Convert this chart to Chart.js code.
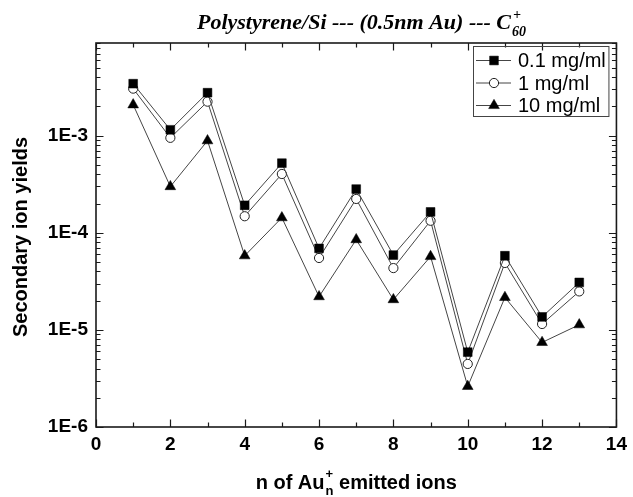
<!DOCTYPE html>
<html><head><meta charset="utf-8">
<script src="https://cdn.jsdelivr.net/npm/chart.js@4.4.0/dist/chart.umd.min.js"></script>
<style>html,body{margin:0;padding:0;background:#fff}canvas{display:block}</style>
</head><body>
<canvas id="c" width="633" height="497"></canvas>
<script>
const nValues = [1,2,3,4,5,6,7,8,9,10,11,12,13];
const seriesNames = ['0.1 mg/ml','1 mg/ml','10 mg/ml'];
const yield01 = [3.43e-3,1.15e-3,2.77e-3,1.92e-4,5.21e-4,6.9e-5,2.82e-4,5.9e-5,1.64e-4,5.9e-6,5.8e-5,1.36e-5,3.08e-5];
const yield1  = [3.05e-3,9.5e-4,2.24e-3,1.48e-4,4.03e-4,5.5e-5,2.23e-4,4.33e-5,1.33e-4,4.46e-6,4.89e-5,1.15e-5,2.49e-5];
const yield10 = [2.08e-3,2.99e-4,8.87e-4,5.8e-5,1.43e-4,2.2e-5,8.5e-5,2.05e-5,5.7e-5,2.62e-6,2.16e-5,7.43e-6,1.13e-5];
const xTickValues = [0,2,4,6,8,10,12,14];
const yTickValues = [1e-6,1e-5,1e-4,1e-3];
const yTickLabels = ['1E-6','1E-5','1E-4','1E-3'];
const titleParts = ['Polystyrene/Si --- (0.5nm Au) --- C','+','60'];
const xTitleParts = ['n of Au','n','+',' emitted ions'];
const yTitle = 'Secondary ion yields';

const SANS = '"Liberation Sans", Arial, sans-serif';
const SERIF = '"Liberation Serif", "Times New Roman", serif';

const pts = arr => nValues.map((n,i)=>({x:n,y:arr[i]}));

const framePlugin = {
  id:'frame',
  afterDatasetsDraw(chart){
    const {ctx, chartArea:a, scales:{x,y}} = chart;
    ctx.save();
    ctx.strokeStyle='#1a1a1a';
    ctx.lineWidth=1.2;
    ctx.beginPath();
    for (let v=x.min; v<=x.max; v++){
      const px = Math.round(x.getPixelForValue(v))+0.5;
      const len = xTickValues.includes(v) ? 7.5 : 4.5;
      ctx.moveTo(px, a.bottom); ctx.lineTo(px, a.bottom-len);
      ctx.moveTo(px, a.top); ctx.lineTo(px, a.top+len);
    }
    for (let e=-6; e<=-3; e++){
      for (let m=1; m<=9; m++){
        const v = parseFloat(m+'e'+e);
        if (v < y.min*0.999 || v > y.max*1.001) continue;
        const py = Math.round(y.getPixelForValue(v))+0.5;
        const len = m===1 ? 7.5 : 4.5;
        ctx.moveTo(a.left, py); ctx.lineTo(a.left+len, py);
        ctx.moveTo(a.right, py); ctx.lineTo(a.right-len, py);
      }
    }
    ctx.stroke();
    ctx.lineWidth=1.6;
    ctx.strokeRect(a.left, a.top, a.right-a.left, a.bottom-a.top);
    ctx.restore();
  }
};

const legendPlugin = {
  id:'boxLegend',
  afterDraw(chart){
    const {ctx, chartArea:a} = chart;
    const bx0 = 473, by0 = 46, bx1 = a.right-8, by1 = 116;
    ctx.save();
    ctx.strokeStyle='#444'; ctx.lineWidth=1;
    ctx.strokeRect(bx0+0.5, by0+0.5, bx1-bx0, by1-by0);
    const rows = [60.5, 83, 105.5];
    chart.data.datasets.forEach((ds,i)=>{
      const yy = rows[i];
      ctx.strokeStyle = ds.borderColor; ctx.lineWidth = ds.borderWidth;
      ctx.beginPath(); ctx.moveTo(bx0+3, yy); ctx.lineTo(bx0+38, yy); ctx.stroke();
      ctx.fillStyle = ds.pointBackgroundColor; ctx.strokeStyle = ds.pointBorderColor;
      ctx.lineWidth = ds.pointBorderWidth;
      Chart.helpers.drawPoint(ctx, {pointStyle: ds.pointStyle, radius: ds.pointRadius, borderWidth: ds.pointBorderWidth, rotation:0}, bx0+21, yy);
      ctx.fillStyle='#000'; ctx.font='20px '+SANS; ctx.textAlign='left'; ctx.textBaseline='middle';
      ctx.fillText(ds.label, bx0+45, yy+1);
    });
    ctx.restore();
  }
};

const titlesPlugin = {
  id:'titles',
  afterDraw(chart){
    const {ctx, chartArea:a} = chart;
    ctx.save();
    ctx.fillStyle='#000';
    ctx.font='italic bold 22px '+SERIF;
    const w0 = ctx.measureText(titleParts[0]).width;
    ctx.font='italic bold 14px '+SERIF;
    const w1 = Math.max(ctx.measureText(titleParts[1]).width, ctx.measureText(titleParts[2]).width);
    let x0 = 362 - (w0+w1+2)/2;
    const base = 29;
    ctx.textBaseline='alphabetic'; ctx.textAlign='left';
    ctx.font='italic bold 22px '+SERIF;
    ctx.fillText(titleParts[0], x0, base);
    ctx.font='italic bold 14px '+SERIF;
    ctx.fillText(titleParts[1], x0+w0+2, base-10);
    ctx.fillText(titleParts[2], x0+w0+1, base+7);
    const cx = (a.left+a.right)/2;
    ctx.font='bold 20px '+SANS;
    const xa = ctx.measureText(xTitleParts[0]).width;
    const xd = ctx.measureText(xTitleParts[3]).width;
    ctx.font='bold 13px '+SANS;
    const xs = Math.max(ctx.measureText(xTitleParts[1]).width, ctx.measureText(xTitleParts[2]).width);
    let xs0 = cx - (xa+xs+xd+1)/2;
    const xb = 489;
    ctx.font='bold 20px '+SANS;
    ctx.fillText(xTitleParts[0], xs0, xb);
    ctx.fillText(xTitleParts[3], xs0+xa+xs+1, xb);
    ctx.font='bold 13px '+SANS;
    ctx.fillText(xTitleParts[2], xs0+xa+1, xb-11);
    ctx.fillText(xTitleParts[1], xs0+xa+1, xb+6);
    ctx.translate(27, 237);
    ctx.rotate(-Math.PI/2);
    ctx.font='bold 20px '+SANS;
    ctx.textAlign='center';
    ctx.fillText(yTitle, 0, 0);
    ctx.restore();
  }
};

new Chart(document.getElementById('c'), {
  type:'line',
  data:{
    datasets:[
      {label:seriesNames[0], data:pts(yield01), borderColor:'#454545', borderWidth:1,
       pointStyle:'rect', pointRadius:6.2, pointBackgroundColor:'#000', pointBorderColor:'#000', pointBorderWidth:0.5, tension:0},
      {label:seriesNames[1], data:pts(yield1), borderColor:'#454545', borderWidth:1,
       pointStyle:'circle', pointRadius:4.6, pointBackgroundColor:'#fff', pointBorderColor:'#222', pointBorderWidth:1, tension:0},
      {label:seriesNames[2], data:pts(yield10), borderColor:'#454545', borderWidth:1,
       pointStyle:'triangle', pointRadius:6.2, pointBackgroundColor:'#000', pointBorderColor:'#000', pointBorderWidth:0.5, tension:0}
    ]
  },
  options:{
    responsive:false, animation:false, devicePixelRatio:1,
    layout:{padding:{left:0,right:13,top:43,bottom:0}},
    plugins:{legend:{display:false}, title:{display:false}, tooltip:{enabled:false}},
    scales:{
      x:{type:'linear', min:0, max:14,
         grid:{display:false, drawTicks:false}, border:{display:false},
         ticks:{stepSize:2, padding:6, color:'#000', font:{family:SANS, size:19, weight:'bold'},
                callback:(v)=> xTickValues.includes(v) ? String(v) : ''},
         afterFit:(s)=>{ s.height = 70; }},
      y:{type:'logarithmic', min:1e-6, max:9e-3,
         grid:{display:false, drawTicks:false}, border:{display:false},
         afterBuildTicks:(s)=>{ s.ticks = yTickValues.map(v=>({value:v})); },
         ticks:{padding:8, color:'#000', font:{family:SANS, size:19, weight:'bold'},
                callback:(v)=>{ const i = yTickValues.indexOf(v); return i>=0 ? yTickLabels[i] : ''; }},
         afterFit:(s)=>{ s.width = 96; }}
    }
  },
  plugins:[framePlugin, legendPlugin, titlesPlugin]
});
</script>
</body></html>
